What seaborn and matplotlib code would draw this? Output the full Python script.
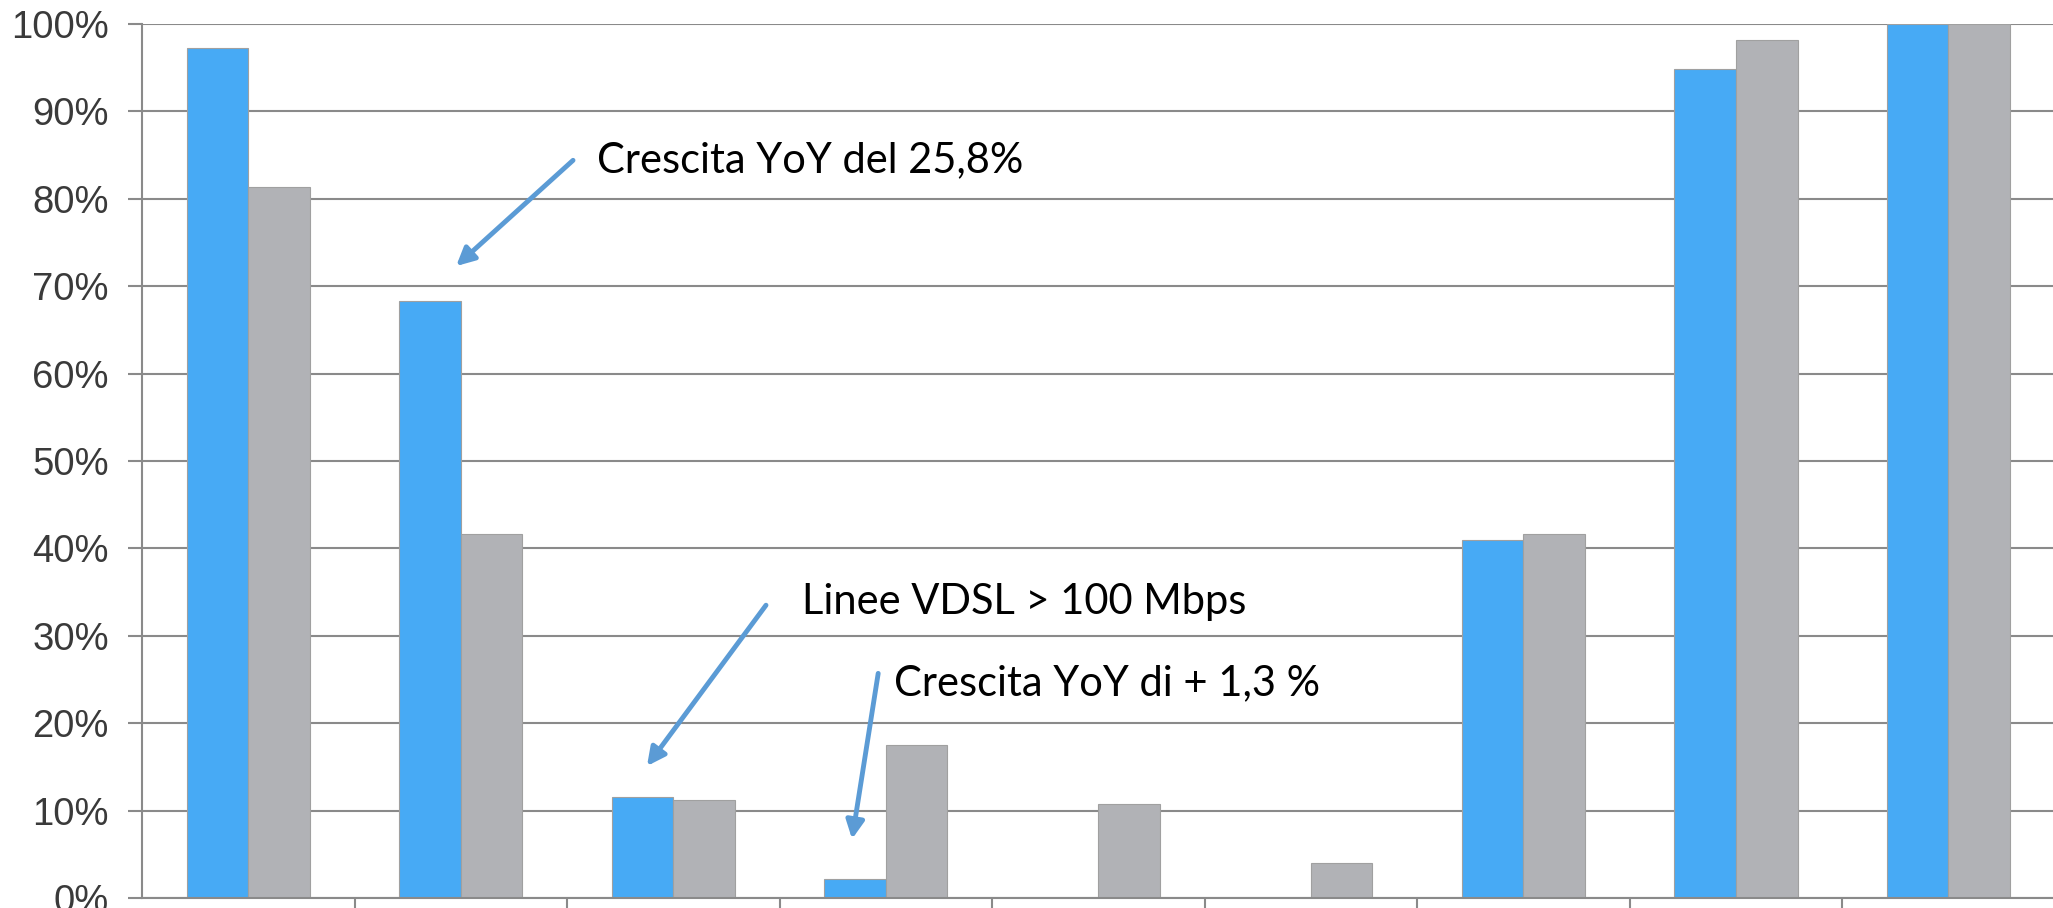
import numpy as np
import pandas as pd
import seaborn as sns
import matplotlib.pyplot as plt
from matplotlib.ticker import PercentFormatter

# categories (not labelled in the picture) and the two series
categories = ['C1', 'C2', 'C3', 'C4', 'C5', 'C6', 'C7', 'C8', 'C9']
series_names = ['Serie A', 'Serie B']
blue_vals = [97.2, 68.3, 11.5, 2.2, 0.0, 0.0, 41.0, 94.9, 100.0]
gray_vals = [81.3, 41.7, 11.2, 17.5, 10.8, 4.0, 41.7, 98.2, 100.0]
y_ticks = list(range(0, 101, 10))

df = pd.DataFrame({
    'cat': categories * 2,
    'serie': [series_names[0]] * len(categories) + [series_names[1]] * len(categories),
    'val': blue_vals + gray_vals,
})

sns.set_theme(style='white')
plt.rcParams['font.family'] = ['Liberation Sans', 'DejaVu Sans']

fig = plt.figure(figsize=(20.53, 9.08), dpi=100)
ax = fig.add_axes([0.0692, 0.011, 0.9316, 0.9626])

palette = {series_names[0]: '#47aaf5', series_names[1]: '#b1b2b6'}
sns.barplot(data=df, x='cat', y='val', hue='serie', palette=palette, width=0.58,
            edgecolor='#a0a0a0', linewidth=0.8, saturation=1, legend=False, ax=ax, zorder=3)

ax.set_xlim(-0.5, len(categories) - 0.5)
ax.set_ylim(0, 100)
ax.set_yticks(y_ticks)
ax.yaxis.set_major_formatter(PercentFormatter(decimals=0))
ax.yaxis.grid(True, color='#8a8a8a', linewidth=1.5, zorder=0)
ax.set_axisbelow(True)
ax.set_xticks(np.arange(0.5, len(categories) - 1, 1))
ax.set_xticklabels([])
ax.set_xlabel('')
ax.set_ylabel('')
ax.tick_params(axis='y', length=10, width=1.5, color='#8a8a8a', labelsize=27.5, labelcolor='#3a3a3a', pad=14, left=True)
ax.tick_params(axis='x', length=12, width=1.5, color='#8a8a8a', bottom=True, direction='out')
for s in ['top', 'right']:
    ax.spines[s].set_visible(False)
for s in ['left', 'bottom']:
    ax.spines[s].set_color('#8a8a8a')
    ax.spines[s].set_linewidth(1.5)
ax.spines['bottom'].set_zorder(4)

# annotations
arrow_kw = dict(arrowstyle='-|>,head_length=0.9,head_width=0.45', color='#5b9bd5', lw=3.5, shrinkA=0, shrinkB=0)
txt_kw = dict(fontsize=30, family=['Lato', 'DejaVu Sans'], color='black', va='center', ha='left')
ax.annotate('', xy=(0.978, 72.3), xytext=(1.528, 84.4), arrowprops=arrow_kw)
ax.text(1.641, 84.4, 'Crescita YoY del 25,8%', **txt_kw)
ax.annotate('', xy=(1.876, 15.1), xytext=(2.436, 33.5), arrowprops=arrow_kw)
ax.text(2.606, 33.9, 'Linee VDSL > 100 Mbps', **txt_kw)
ax.annotate('', xy=(2.841, 6.75), xytext=(2.964, 25.7), arrowprops=arrow_kw)
ax.text(3.039, 24.6, 'Crescita YoY di + 1,3 %', **txt_kw)

fig.savefig('out.png', dpi=100)
